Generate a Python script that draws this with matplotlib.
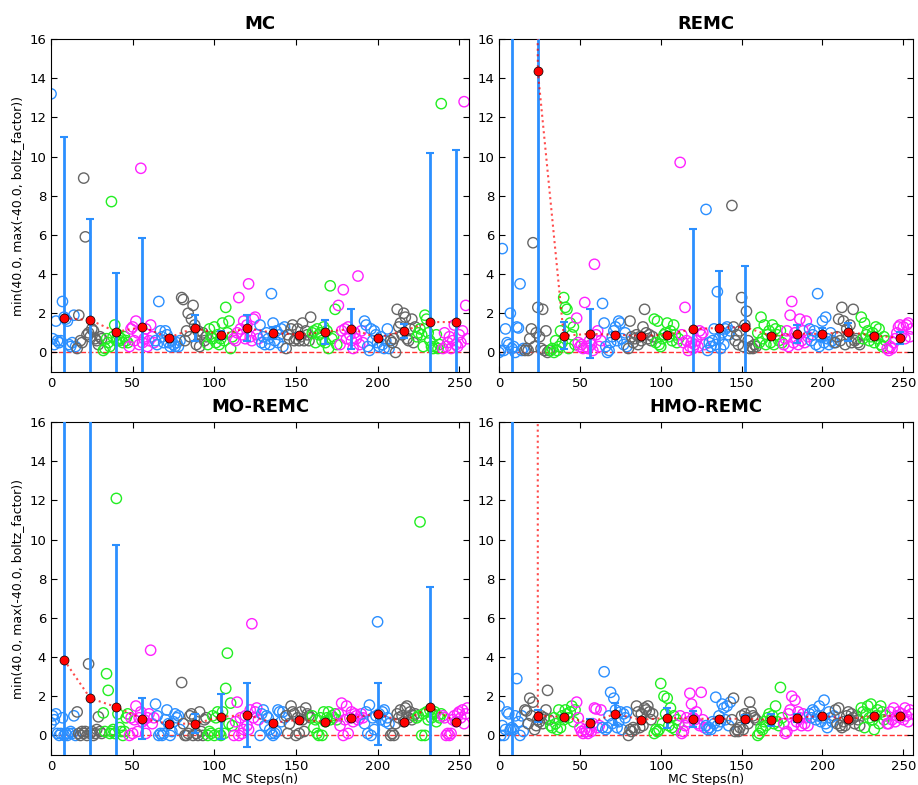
import matplotlib
matplotlib.use('Agg')
import matplotlib.pyplot as plt
import numpy as np

# one value per MC step, 16 steps per block (colour cycles per block)
mc_values = [
    [13.2, 0.7, 0.4, 1.6, 0.6, 0.5, 0.6, 2.6, 1.8, 1.7, 1.6, 0.4, 0.3, 0.5, 1.9, 0.3],
    [0.2, 1.9, 0.6, 0.5, 8.9, 5.9, 0.9, 1.0, 0.8, 1.2, 1.1, 0.7, 0.6, 0.4, 0.8, 0.7],
    [0.1, 0.2, 0.7, 0.5, 0.3, 7.7, 0.8, 1.4, 0.6, 0.9, 0.6, 0.7, 0.5, 0.8, 0.6, 0.5],
    [0.3, 1.2, 1.3, 0.6, 1.6, 1.0, 0.4, 9.4, 0.5, 0.7, 1.2, 0.3, 0.6, 1.4, 0.8, 0.5],
    [0.6, 0.4, 2.6, 1.1, 0.8, 0.5, 1.1, 0.9, 0.5, 0.3, 0.6, 0.4, 0.3, 0.5, 0.3, 0.6],
    [2.8, 2.7, 0.6, 1.1, 2.0, 0.8, 1.7, 2.4, 1.4, 0.4, 1.1, 0.3, 0.9, 1.0, 0.6, 0.8],
    [0.4, 1.2, 0.8, 0.7, 1.3, 0.5, 0.9, 0.4, 0.7, 1.5, 0.6, 2.3, 1.0, 1.6, 0.2, 0.8],
    [0.7, 0.6, 1.0, 2.8, 1.2, 0.9, 1.6, 0.7, 1.4, 3.5, 0.8, 0.6, 1.7, 1.8, 0.9, 0.7],
    [1.4, 0.5, 0.8, 0.4, 1.0, 0.7, 0.4, 3.0, 1.5, 0.6, 1.1, 0.5, 0.9, 1.2, 0.3, 1.3],
    [0.2, 0.9, 0.7, 1.2, 1.4, 0.6, 0.7, 1.2, 0.6, 0.8, 1.5, 0.6, 1.1, 0.9, 0.6, 1.8],
    [1.0, 1.1, 0.5, 1.2, 0.9, 1.0, 0.6, 1.3, 0.5, 1.1, 0.2, 3.4, 0.7, 0.8, 2.2, 0.4],
    [2.4, 0.4, 1.1, 3.2, 1.2, 0.7, 1.3, 0.9, 0.6, 0.2, 1.0, 0.7, 3.9, 0.4, 1.1, 0.5],
    [1.6, 1.4, 0.3, 0.1, 1.2, 0.6, 1.1, 0.9, 0.5, 0.3, 0.8, 0.4, 0.2, 0.6, 1.2, 0.2],
    [0.6, 0.5, 0.7, 0.0, 2.2, 1.3, 1.5, 0.9, 2.0, 1.8, 0.7, 0.6, 1.2, 1.7, 0.5, 1.3],
    [0.8, 1.0, 1.2, 0.9, 0.3, 1.9, 1.7, 1.0, 0.6, 0.3, 0.2, 0.3, 0.9, 0.2, 0.4, 12.7],
    [0.2, 1.0, 0.3, 0.5, 0.8, 0.2, 0.6, 1.4, 0.4, 0.3, 0.9, 0.5, 1.1, 12.8, 2.4, 0.7],
]
mc_means = [1.75, 1.65, 1.05, 1.3, 0.75, 1.25, 0.9, 1.25, 1.0, 0.9, 1.05, 1.2, 0.75, 1.1, 1.55, 1.55]
mc_errs = [9.25, 5.15, 3.0, 4.55, 0.1, 0.65, 0.2, 0.65, 0.3, 0.1, 0.6, 1.0, 0.1, 0.35, 8.65, 8.8]

remc_values = [
    [0.0, 0.1, 5.3, 0.1, 1.2, 0.5, 0.4, 2.0, 0.2, 0.3, 0.0, 1.3, 1.25, 3.5, 0.1, 0.2],
    [0.1, 0.2, 0.1, 0.7, 1.2, 5.6, 0.3, 1.0, 2.3, 0.8, 0.2, 2.2, 0.1, 1.1, 0.0, 0.1],
    [0.1, 0.2, 0.0, 0.6, 0.1, 0.3, 1.1, 0.5, 2.8, 2.3, 2.2, 0.2, 1.5, 0.9, 1.3, 0.4],
    [1.75, 0.5, 0.3, 0.4, 0.2, 2.55, 0.3, 0.2, 0.6, 0.4, 0.1, 4.5, 0.9, 1.1, 0.3, 0.6],
    [2.5, 1.5, 0.3, 0.0, 0.1, 0.5, 0.8, 1.1, 1.3, 0.6, 1.6, 1.5, 0.7, 0.4, 1.0, 0.3],
    [0.2, 1.6, 0.8, 0.5, 0.7, 0.9, 0.4, 0.8, 0.6, 1.3, 2.2, 1.0, 0.7, 0.9, 0.6, 0.8],
    [1.7, 0.5, 1.6, 0.4, 0.3, 0.7, 0.9, 1.0, 1.5, 0.8, 1.1, 0.6, 1.4, 0.9, 0.5, 0.7],
    [9.7, 0.9, 0.5, 2.3, 0.6, 0.1, 0.3, 0.5, 0.2, 0.4, 0.6, 0.3, 1.1, 0.9, 1.0, 0.4],
    [7.3, 0.1, 0.5, 0.3, 0.6, 1.2, 0.4, 3.1, 0.7, 0.2, 1.0, 0.4, 1.2, 1.3, 0.9, 1.1],
    [7.5, 1.3, 0.6, 0.9, 0.4, 1.1, 2.8, 0.3, 1.4, 2.1, 0.6, 0.2, 0.3, 0.2, 0.4, 0.3],
    [1.0, 0.5, 1.8, 0.7, 1.4, 0.4, 0.9, 1.1, 0.5, 1.4, 0.4, 1.2, 0.9, 0.6, 1.1, 0.5],
    [0.4, 0.7, 1.1, 0.3, 1.9, 2.6, 0.5, 1.0, 0.7, 0.4, 1.7, 0.6, 1.1, 0.5, 1.6, 0.8],
    [1.2, 0.6, 0.9, 1.1, 0.4, 3.0, 0.3, 0.8, 1.6, 0.5, 1.8, 0.7, 0.4, 1.0, 0.6, 0.5],
    [0.5, 0.8, 1.7, 0.6, 2.3, 1.6, 0.4, 1.2, 0.9, 1.4, 0.5, 2.2, 0.6, 0.7, 0.5, 0.4],
    [1.8, 0.7, 1.5, 0.9, 1.1, 0.6, 0.8, 1.0, 0.5, 1.3, 0.7, 1.2, 0.4, 0.3, 0.8, 0.6],
    [0.2, 0.1, 0.3, 0.2, 0.5, 0.7, 1.0, 1.3, 1.4, 0.9, 1.3, 0.7, 1.4, 1.5, 0.8, 1.2],
]
remc_means = [250.0, 14.35, 0.85, 0.95, 0.9, 0.85, 0.9, 1.2, 1.25, 1.3, 0.85, 0.95, 0.95, 1.05, 0.85, 0.75]
remc_errs = [300.0, 30.0, 0.7, 1.25, 0.1, 0.1, 0.1, 5.1, 2.9, 3.1, 0.1, 0.45, 0.3, 0.45, 0.1, 0.3]

moremc_values = [
    [0.6, 1.0, 0.8, 1.1, 0.1, 0.0, 0.1, 0.9, 0.0, 0.1, 0.0, 0.1, 0.2, 0.1, 1.0, 0.0],
    [1.2, 0.1, 0.0, 0.2, 0.1, 0.2, 0.0, 3.65, 0.1, 0.2, 0.0, 0.1, 0.3, 0.95, 0.2, 0.1],
    [1.15, 0.2, 3.15, 2.3, 0.1, 0.2, 0.3, 0.1, 12.1, 1.1, 0.4, 0.2, 0.0, 0.2, 0.9, 1.1],
    [0.0, 0.9, 0.1, 0.8, 1.5, 0.2, 0.9, 1.2, 0.7, 0.8, 0.1, 0.9, 1.1, 4.35, 0.6, 0.9],
    [1.6, 1.0, 0.0, 0.1, 0.0, 0.1, 0.8, 1.3, 0.6, 0.0, 0.2, 0.7, 1.1, 0.9, 1.0, 0.3],
    [2.7, 0.6, 0.0, 0.0, 0.1, 1.0, 1.1, 0.0, 0.9, 0.1, 0.0, 1.2, 0.2, 0.0, 0.8, 0.9],
    [0.0, 0.2, 0.1, 1.0, 0.0, 0.9, 1.2, 0.1, 0.0, 1.2, 0.1, 2.4, 4.2, 0.6, 1.65, 0.5],
    [0.0, 0.7, 1.7, 0.0, 0.9, 0.1, 0.3, 1.0, 0.5, 0.3, 1.3, 5.7, 0.9, 1.2, 1.4, 0.8],
    [0.0, 1.1, 1.3, 0.5, 1.0, 0.9, 0.3, 0.1, 0.0, 0.1, 0.2, 1.3, 1.2, 0.7, 1.2, 0.9],
    [1.0, 0.1, 0.6, 1.5, 1.2, 1.1, 0.0, 0.9, 0.1, 1.2, 0.8, 0.2, 1.4, 1.1, 1.0, 0.9],
    [1.0, 0.4, 0.8, 0.1, 0.0, 0.9, 0.0, 1.2, 0.7, 0.9, 1.2, 0.8, 1.0, 0.9, 1.1, 0.8],
    [1.1, 0.5, 1.65, 0.0, 0.8, 1.5, 0.1, 0.9, 1.2, 0.7, 1.1, 1.0, 0.8, 0.9, 1.1, 0.9],
    [0.6, 1.2, 0.1, 1.55, 0.0, 0.9, 0.3, 1.0, 5.8, 1.1, 0.8, 1.2, 1.3, 0.7, 0.9, 0.6],
    [0.0, 0.1, 0.0, 0.6, 1.1, 0.9, 1.3, 1.0, 0.7, 1.4, 1.5, 0.9, 1.2, 0.8, 1.0, 1.1],
    [0.9, 1.0, 10.9, 0.0, 1.1, 0.0, 1.2, 0.8, 1.3, 0.9, 1.1, 1.2, 0.7, 1.0, 0.9, 1.1],
    [1.0, 0.9, 0.0, 0.1, 0.0, 0.1, 0.8, 1.0, 0.7, 1.1, 1.2, 0.9, 1.3, 0.6, 1.1, 1.4],
]
moremc_means = [3.85, 1.9, 1.45, 0.85, 0.6, 0.6, 0.95, 1.05, 0.65, 0.8, 0.7, 0.9, 1.1, 0.7, 1.45, 0.7]
moremc_errs = [20.0, 20.0, 8.25, 1.05, 0.1, 0.5, 1.15, 1.65, 0.1, 0.1, 0.1, 0.1, 1.6, 0.1, 6.15, 0.1]

hmoremc_values = [
    [1.5, 0.0, 0.5, 0.0, 0.3, 1.2, 1.1, 0.3, 0.4, 0.3, 1.0, 2.9, 0.7, 0.0, 1.0, 0.2],
    [1.3, 1.25, 0.6, 1.9, 1.0, 1.7, 0.3, 0.5, 0.8, 0.7, 1.0, 0.6, 0.9, 1.3, 2.3, 0.8],
    [0.5, 0.4, 0.9, 0.6, 0.3, 1.3, 0.4, 1.0, 0.8, 1.3, 1.1, 0.9, 1.2, 1.5, 0.7, 1.3],
    [1.7, 0.9, 0.4, 0.2, 0.1, 0.3, 0.2, 0.1, 0.3, 0.2, 0.6, 1.4, 1.35, 0.4, 0.5, 1.3],
    [0.4, 3.25, 0.3, 0.4, 1.0, 2.2, 0.6, 1.9, 1.3, 0.4, 0.7, 1.2, 0.3, 1.1, 0.9, 1.2],
    [0.0, 0.3, 0.2, 0.4, 0.3, 1.5, 1.2, 0.4, 1.1, 0.5, 1.4, 1.3, 1.5, 1.2, 0.8, 1.1],
    [0.1, 0.3, 0.2, 0.3, 2.65, 0.6, 2.0, 1.1, 1.9, 0.5, 1.4, 0.4, 1.0, 0.3, 0.8, 0.6],
    [1.0, 0.1, 0.2, 0.5, 0.9, 0.7, 2.15, 1.6, 0.9, 0.8, 1.2, 0.6, 0.5, 2.2, 0.8, 0.4],
    [0.5, 0.3, 0.4, 0.3, 0.7, 0.6, 1.95, 0.5, 1.0, 0.7, 1.6, 1.4, 0.8, 1.5, 0.5, 1.7],
    [0.8, 1.9, 0.2, 0.3, 0.2, 0.4, 1.0, 0.3, 1.1, 0.9, 0.6, 1.7, 1.2, 1.0, 0.9, 0.8],
    [0.0, 0.1, 0.4, 0.3, 0.7, 0.5, 0.9, 1.1, 0.8, 1.0, 0.6, 1.5, 0.7, 0.5, 2.45, 0.9],
    [0.6, 0.1, 0.2, 1.1, 1.3, 2.0, 0.5, 1.8, 0.7, 1.2, 0.9, 0.5, 1.1, 0.6, 0.9, 0.5],
    [1.1, 0.9, 1.3, 1.2, 0.8, 1.0, 1.5, 0.7, 0.9, 1.8, 0.6, 0.4, 1.2, 0.9, 0.7, 1.0],
    [1.3, 0.6, 1.4, 0.5, 0.4, 0.7, 0.5, 1.0, 1.2, 0.8, 1.1, 0.9, 0.6, 1.0, 0.8, 0.5],
    [1.4, 1.2, 0.4, 1.1, 1.5, 0.9, 1.6, 0.8, 0.3, 1.0, 1.3, 0.6, 1.5, 1.2, 0.8, 1.0],
    [0.6, 0.6, 1.2, 0.8, 1.4, 0.7, 1.0, 1.2, 0.9, 1.1, 0.8, 1.4, 1.0, 0.7, 1.3, 1.1],
]
hmoremc_means = [5000.0, 1.0, 0.95, 0.65, 1.1, 0.8, 0.9, 0.85, 0.85, 0.85, 0.8, 0.9, 1.0, 0.85, 1.0, 1.0]
hmoremc_errs = [8000.0, 0.3, 0.1, 0.2, 0.55, 0.1, 0.5, 0.4, 0.1, 0.2, 0.3, 0.2, 0.1, 0.1, 0.1, 0.1]

titles = ['MC', 'REMC', 'MO-REMC', 'HMO-REMC']
block_colors = ['#2b8fff', '#666666', '#22ee22', '#ff22ff']
block_size = 16


def plot_panel(ax, values, means, errs, title):
    for b, block in enumerate(values):
        steps = np.arange(b * block_size, (b + 1) * block_size)
        ax.scatter(steps, block, s=55, facecolors='none',
                   edgecolors=block_colors[b % 4], linewidths=1.0, zorder=2)
    centers = np.arange(len(means)) * block_size + block_size // 2
    ax.axhline(0, color='red', linestyle='--', linewidth=1.0, alpha=0.8, zorder=1)
    ax.errorbar(centers, means, yerr=errs, fmt='none', ecolor='#2b8fff',
                elinewidth=2, capsize=3, capthick=1.5, zorder=3)
    ax.plot(centers, means, color='red', linestyle=':', linewidth=1.5, alpha=0.7, zorder=4)
    ax.plot(centers, means, 'o', color='red', markeredgecolor='black',
            markeredgewidth=0.5, markersize=6.5, zorder=5)
    ax.set_xlim(0, 256)
    ax.set_ylim(-1, 16)
    ax.set_xticks([0, 50, 100, 150, 200, 250])
    ax.set_yticks(range(0, 17, 2))
    ax.tick_params(direction='in', top=True, right=True, length=4, labelsize=9.5)
    ax.set_title(title, fontsize=13, fontweight='bold', pad=7)


fig = plt.figure(figsize=(9.18, 7.85), dpi=100)
# right column is a touch narrower so its last tick label stays inside the figure
positions = [
    [0.0556, 0.5261, 0.4553, 0.4242],
    [0.5436, 0.5261, 0.4510, 0.4242],
    [0.0556, 0.0382, 0.4553, 0.4242],
    [0.5436, 0.0382, 0.4510, 0.4242],
]
panels = [
    (mc_values, mc_means, mc_errs),
    (remc_values, remc_means, remc_errs),
    (moremc_values, moremc_means, moremc_errs),
    (hmoremc_values, hmoremc_means, hmoremc_errs),
]

for i, (vals, means, errs) in enumerate(panels):
    ax = fig.add_axes(positions[i])
    plot_panel(ax, vals, means, errs, titles[i])
    if i % 2 == 0:
        ax.set_ylabel('min(40.0, max(-40.0, boltz_factor))', fontsize=9)
    if i >= 2:
        ax.set_xlabel('MC Steps(n)', fontsize=9, labelpad=0)

fig.savefig('out.png', dpi=100)
plt.close(fig)
